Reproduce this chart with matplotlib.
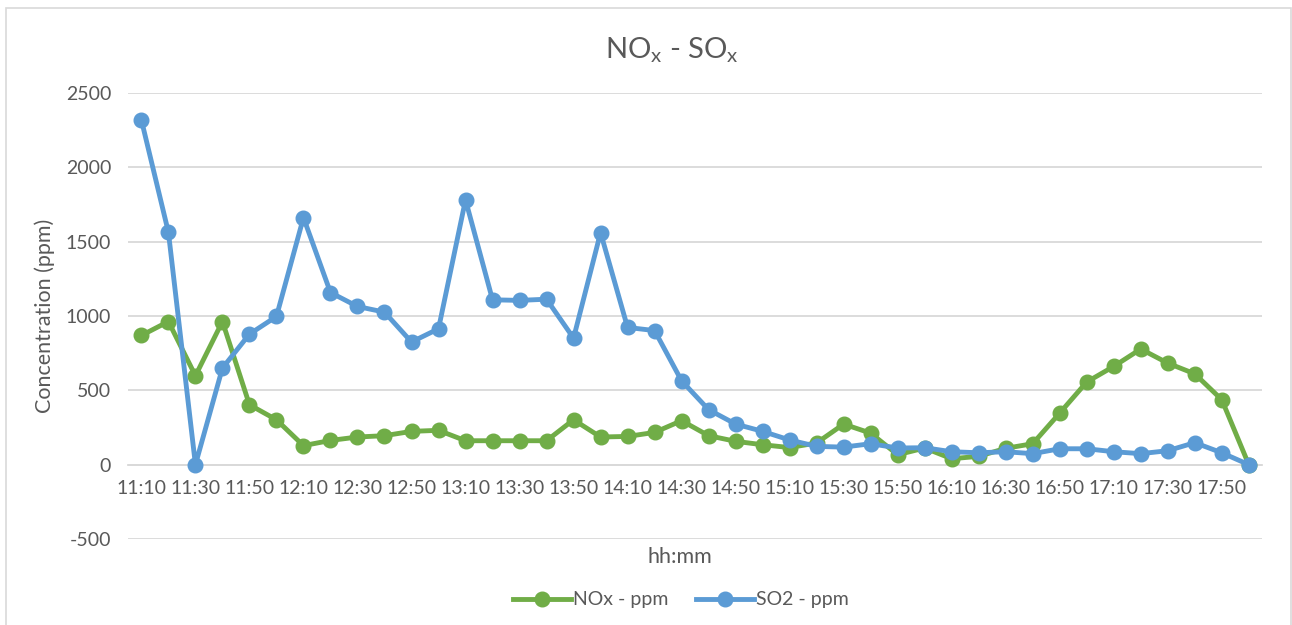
import numpy as np
import matplotlib
matplotlib.use('Agg')
import matplotlib.pyplot as plt
from matplotlib.patches import Rectangle

plt.rcParams['font.family'] = ['Lato', 'DejaVu Sans']
plt.rcParams['mathtext.fontset'] = 'custom'
plt.rcParams['mathtext.rm'] = 'Lato'
plt.rcParams['axes.unicode_minus'] = False

# time stamps, 10 minute steps from 11:10 to 18:00
times = ['11:10', '11:20', '11:30', '11:40', '11:50', '12:00', '12:10', '12:20',
         '12:30', '12:40', '12:50', '13:00', '13:10', '13:20', '13:30', '13:40',
         '13:50', '14:00', '14:10', '14:20', '14:30', '14:40', '14:50', '15:00',
         '15:10', '15:20', '15:30', '15:40', '15:50', '16:00', '16:10', '16:20',
         '16:30', '16:40', '16:50', '17:00', '17:10', '17:20', '17:30', '17:40',
         '17:50', '18:00']

nox = [869, 963, 598, 963, 403, 302, 128, 163, 186, 195, 224, 231, 161, 161,
       161, 161, 302, 186, 190, 217, 296, 195, 157, 134, 115, 146, 273, 212,
       67, 112, 40, 56, 110, 141, 347, 556, 661, 778, 683, 611, 437, 0]

so2 = [2318, 1563, 0, 650, 878, 997, 1662, 1158, 1064, 1026, 825, 914, 1781, 1109,
       1105, 1113, 851, 1561, 923, 902, 564, 370, 273, 224, 166, 123, 118, 141,
       112, 114, 87, 80, 87, 74, 107, 107, 87, 74, 94, 148, 80, 0]

green = '#70AD47'
blue = '#5B9BD5'
txt = '#595959'
grid = '#D9D9D9'

fig = plt.figure(figsize=(12.92, 6.25), dpi=100)
ax = fig.add_axes([0.099, 0.1376, 0.878, 0.7136])

x = np.arange(len(times))
ax.plot(x, nox, '-o', color=green, lw=3.5, markersize=10.5, label='NOx - ppm', zorder=3)
ax.plot(x, so2, '-o', color=blue, lw=3.5, markersize=10.5, label='SO2 - ppm', zorder=4)

ax.set_xlim(-0.5, len(times) - 0.5)
ax.set_ylim(-500, 2500)
ax.set_yticks(np.arange(-500, 2501, 500))
ax.set_xticks(x[::2])
ax.set_xticklabels(times[::2])
ax.yaxis.grid(True, color=grid, lw=1.3)
ax.set_axisbelow(True)

for s in ['top', 'right', 'left']:
    ax.spines[s].set_visible(False)
ax.spines['bottom'].set_position(('data', 0))
ax.spines['bottom'].set_color(grid)
ax.spines['bottom'].set_linewidth(1.3)
ax.tick_params(axis='both', length=0, labelsize=14, labelcolor=txt)
ax.tick_params(axis='x', pad=11)
ax.tick_params(axis='y', pad=12)

ax.set_ylabel('Concentration (ppm)', fontsize=15.5, color=txt, labelpad=8)
fig.text(0.5263, 1 - 557 / 625, 'hh:mm', fontsize=15.5, color=txt, ha='center', va='center')
fig.text(0.52, 1 - 50 / 625, r'NO$_\mathrm{x}$ - SO$_\mathrm{x}$', fontsize=21,
         color=txt, ha='center', va='center')

leg = fig.legend(loc='center', bbox_to_anchor=(0.527, 1 - 600 / 625), ncol=2,
                 frameon=False, fontsize=14, handlelength=3.0, columnspacing=1.4,
                 handletextpad=0.1)
for t in leg.get_texts():
    t.set_color(txt)

fig.patches.append(Rectangle((6 / 1292, -0.01), 1285 / 1292, 1 - 8 / 625 + 0.01,
                             transform=fig.transFigure, fill=False,
                             edgecolor='#D9D9D9', lw=1.2))

fig.savefig('out.png', dpi=100)
